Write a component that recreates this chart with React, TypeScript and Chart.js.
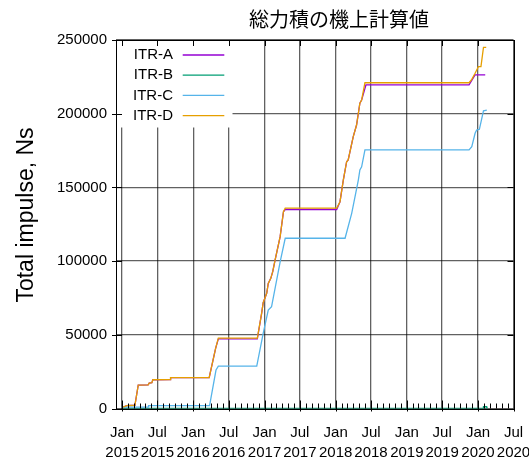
import { useEffect, useRef } from "react";
import { Chart, registerables } from "chart.js";

Chart.register(...registerables);

const titleText = "総力積の機上計算値";
const yAxisTitle = "Total impulse, Ns";
const seriesNames = ["ITR-A", "ITR-B", "ITR-C", "ITR-D"];
const seriesColors = ["#9400d3", "#009e73", "#56b4e9", "#e69f00"];

const xMin = "2014-12-01";
const xMax = "2020-07-01";
const xTickDates = [
  "2015-01-01", "2015-07-01", "2016-01-01", "2016-07-01", "2017-01-01", "2017-07-01",
  "2018-01-01", "2018-07-01", "2019-01-01", "2019-07-01", "2020-01-01", "2020-07-01",
];
const xTickMonths = ["Jan", "Jul", "Jan", "Jul", "Jan", "Jul", "Jan", "Jul", "Jan", "Jul", "Jan", "Jul"];
const xTickYears = ["2015", "2015", "2016", "2016", "2017", "2017", "2018", "2018", "2019", "2019", "2020", "2020"];
const yTicks = [0, 50000, 100000, 150000, 200000, 250000];

const itrADates = [
  "2015-01-07", "2015-01-25", "2015-03-08", "2015-03-25", "2015-05-15", "2015-05-20",
  "2015-06-03", "2015-06-08", "2015-09-04", "2015-09-07", "2016-03-23", "2016-04-25",
  "2016-05-09", "2016-11-25", "2016-12-17", "2016-12-25", "2017-01-12", "2017-01-20",
  "2017-02-02", "2017-02-12", "2017-02-24", "2017-03-22", "2017-04-08", "2017-04-17",
  "2018-01-06", "2018-01-23", "2018-02-09", "2018-02-26", "2018-03-06", "2018-04-01",
  "2018-04-18", "2018-05-05", "2018-05-14", "2018-06-05", "2019-11-16", "2019-12-17",
  "2020-02-07",
];
const itrAValues = [
  1000, 2000, 2200, 15900, 16000, 17200,
  17500, 19500, 19600, 20900, 20900, 40800,
  47200, 47200, 64600, 71800, 78200, 84900,
  88300, 92800, 100700, 116600, 133500, 135000,
  135000, 140300, 155000, 167400, 168600, 184400,
  192300, 207100, 209300, 219500, 219500, 226300,
  226300,
];

const itrBDates = ["2015-01-01", "2020-01-27", "2020-01-29", "2020-02-14", "2020-02-16"];
const itrBValues = [0, 0, 1200, 1200, 0];

const itrCDates = [
  "2014-12-30", "2015-05-15", "2015-05-17", "2016-03-25", "2016-04-27", "2016-05-09",
  "2016-11-22", "2016-12-25", "2017-01-20", "2017-02-06", "2017-03-22", "2017-04-17",
  "2018-02-18", "2018-03-24", "2018-04-27", "2018-05-05", "2018-05-14", "2018-05-31",
  "2019-11-16", "2019-11-30", "2019-12-17", "2019-12-25", "2020-01-08", "2020-01-29",
  "2020-02-15",
];
const itrCValues = [
  1000, 1000, 2000, 2000, 26100, 28800,
  28800, 51000, 66800, 69100, 99500, 115500,
  115500, 132400, 155000, 161800, 164000, 175500,
  175500, 177600, 186700, 188900, 189400, 202000,
  202500,
];

const itrDDates = [
  "2015-01-07", "2015-01-25", "2015-03-08", "2015-03-25", "2015-05-15", "2015-05-20",
  "2015-06-03", "2015-06-08", "2015-09-04", "2015-09-07", "2016-03-23", "2016-04-25",
  "2016-05-09", "2016-11-25", "2016-12-17", "2016-12-25", "2017-01-12", "2017-01-20",
  "2017-02-02", "2017-02-12", "2017-02-24", "2017-03-22", "2017-04-08", "2017-04-17",
  "2018-01-06", "2018-01-23", "2018-02-09", "2018-02-26", "2018-03-06", "2018-04-01",
  "2018-04-18", "2018-05-05", "2018-05-14", "2018-05-31", "2019-11-16", "2019-11-30",
  "2019-12-17", "2020-01-03", "2020-01-16", "2020-01-29", "2020-02-12",
];
const itrDValues = [
  1000, 2000, 2200, 15900, 16000, 17200,
  17500, 19500, 19600, 20900, 20900, 40800,
  47700, 47700, 64600, 71800, 78200, 84900,
  88300, 92800, 100700, 116600, 133500, 136000,
  136000, 140300, 155000, 167400, 168600, 184400,
  192300, 207100, 209300, 221000, 221000, 223300,
  227400, 231900, 231900, 245000, 245000,
];

const FONT = '"Liberation Sans", Arial, sans-serif';
const GRID_COLOR = "rgba(0,0,0,0.62)";

function toPoints(dates: string[], values: number[]) {
  return dates.map((d, i) => ({ x: Date.parse(d), y: values[i] }));
}

export default function App() {
  const canvasRef = useRef<HTMLCanvasElement | null>(null);

  useEffect(() => {
    document.body.style.margin = "0";
    document.body.style.overflow = "hidden";
    const canvas = canvasRef.current;
    if (!canvas) return;

    const seriesData = [
      toPoints(itrADates, itrAValues),
      toPoints(itrBDates, itrBValues),
      toPoints(itrCDates, itrCValues),
      toPoints(itrDDates, itrDValues),
    ];

    const decorPlugin = {
      id: "decor",
      beforeDatasetsDraw(chart: any) {
        const ctx = chart.ctx;
        const ca = chart.chartArea;
        ctx.save();
        ctx.fillStyle = "#ffffff";
        ctx.fillRect(ca.left + 0.5, ca.top + 0.5, 116, 87);
        ctx.font = "15px " + FONT;
        ctx.textAlign = "right";
        ctx.textBaseline = "middle";
        seriesNames.forEach((name, i) => {
          const y = ca.top + 15 + i * 20.2;
          ctx.fillStyle = "#000";
          ctx.fillText(name, ca.left + 57, y);
          ctx.strokeStyle = seriesColors[i];
          ctx.lineWidth = 1.3;
          ctx.beginPath();
          ctx.moveTo(ca.left + 66.7, y);
          ctx.lineTo(ca.left + 108.3, y);
          ctx.stroke();
        });
        ctx.restore();
      },
      afterDraw(chart: any) {
        const ctx = chart.ctx;
        const ca = chart.chartArea;
        const xs = chart.scales.x;
        const ys = chart.scales.y;
        ctx.save();
        ctx.strokeStyle = "#000";
        ctx.lineWidth = 1;
        ctx.beginPath();
        const tMin = Date.parse(xMin);
        const tMax = Date.parse(xMax);
        for (let yr = 2014; yr <= 2020; yr++) {
          for (let m = 0; m < 12; m++) {
            const t = Date.UTC(yr, m, 1);
            if (t < tMin || t > tMax) continue;
            const px = Math.round(xs.getPixelForValue(t)) + 0.5;
            const major = m === 0 || m === 6;
            ctx.moveTo(px, ca.bottom + (major ? 3 : 0));
            ctx.lineTo(px, ca.bottom - (major ? 8 : 5));
            if (major) {
              ctx.moveTo(px, ca.top);
              ctx.lineTo(px, ca.top + 6);
            }
          }
        }
        yTicks.forEach((v) => {
          const py = Math.round(ys.getPixelForValue(v)) + 0.5;
          ctx.moveTo(ca.left - 4, py);
          ctx.lineTo(ca.left + 6, py);
          ctx.moveTo(ca.right - 6, py);
          ctx.lineTo(ca.right, py);
        });
        ctx.stroke();
        ctx.strokeRect(Math.round(ca.left) + 0.5, Math.round(ca.top) + 0.5,
          Math.round(ca.right - ca.left), Math.round(ca.bottom - ca.top));
        ctx.fillStyle = "#000";
        ctx.font = '20px "Noto Sans CJK JP", sans-serif';
        ctx.textAlign = "center";
        ctx.textBaseline = "middle";
        ctx.fillText(titleText, ca.left + 223, 19);
        ctx.translate(26.7, ca.top + 175);
        ctx.rotate(-Math.PI / 2);
        ctx.font = "23px " + FONT;
        ctx.fillText(yAxisTitle, 0, 0);
        ctx.restore();
      },
    };

    const chart = new Chart(canvas, {
      type: "line",
      data: {
        datasets: seriesNames.map((name, i) => ({
          label: name,
          data: seriesData[i],
          borderColor: seriesColors[i],
          backgroundColor: seriesColors[i],
          borderWidth: 1.3,
          pointRadius: 0,
          tension: 0,
          fill: false,
          order: 4 - i,
        })),
      },
      options: {
        animation: false,
        responsive: true,
        maintainAspectRatio: false,
        parsing: false as any,
        layout: { padding: { left: 0, right: 15.5, top: 40, bottom: 0 } },
        plugins: {
          legend: { display: false },
          title: { display: false },
          tooltip: { enabled: false },
        },
        scales: {
          x: {
            type: "linear",
            min: Date.parse(xMin),
            max: Date.parse(xMax),
            afterBuildTicks: (scale: any) => {
              scale.ticks = xTickDates.map((d) => ({ value: Date.parse(d) }));
            },
            afterFit: (scale: any) => {
              scale.height = 50.5;
              scale.paddingLeft = 0;
              scale.paddingRight = 0;
            },
            grid: {
              color: GRID_COLOR,
              lineWidth: 1.3,
              drawTicks: false,
            },
            border: { display: false },
            ticks: {
              autoSkip: false,
              maxRotation: 0,
              minRotation: 0,
              padding: 14,
              color: "#000",
              font: { family: FONT, size: 15, lineHeight: 1.33 },
              callback: (value: any) => {
                const idx = xTickDates.findIndex((d) => Date.parse(d) === value);
                return idx >= 0 ? [xTickMonths[idx], xTickYears[idx]] : "";
              },
            },
          },
          y: {
            type: "linear",
            min: 0,
            max: 250000,
            afterBuildTicks: (scale: any) => {
              scale.ticks = yTicks.map((v) => ({ value: v }));
            },
            afterFit: (scale: any) => {
              scale.width = 116;
            },
            grid: {
              color: GRID_COLOR,
              lineWidth: 1.3,
              drawTicks: false,
            },
            border: { display: false },
            ticks: {
              padding: 9,
              color: "#000",
              font: { family: FONT, size: 15 },
              callback: (value: any) => String(value),
            },
          },
        },
      },
      plugins: [decorPlugin],
    });

    return () => chart.destroy();
  }, []);

  return (
    <div style={{ width: "529px", height: "459px", position: "relative" }}>
      <canvas ref={canvasRef} />
    </div>
  );
}
